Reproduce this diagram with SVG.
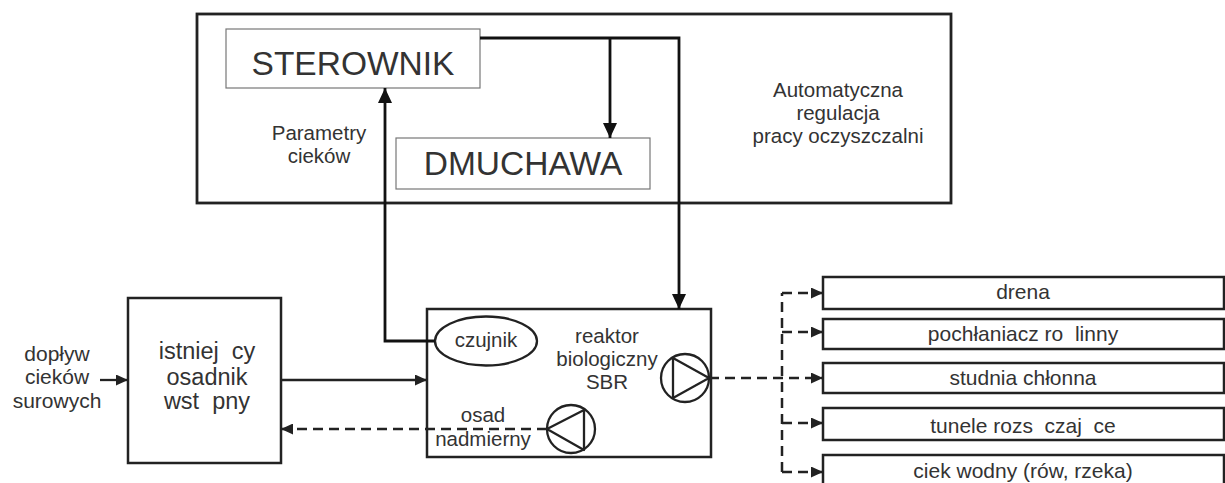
<svg xmlns="http://www.w3.org/2000/svg" width="1225" height="483" viewBox="0 0 1225 483">
<style>
text{font-family:"Liberation Sans",Arial,sans-serif;fill:#333;text-anchor:middle;white-space:pre}
.box{fill:#fff;stroke:#222;stroke-width:2.5}
.thin{fill:#fff;stroke:#777;stroke-width:1.2}
.ln{fill:none;stroke:#111;stroke-width:2.8}
.ln2{fill:none;stroke:#222;stroke-width:2.3}
.dash{fill:none;stroke:#222;stroke-width:2.5;stroke-dasharray:10,6}
.t20{font-size:20.5px}
.t21{font-size:21px}
.t23{font-size:23.5px}
.big{font-size:33.5px}
</style>
<defs>
<marker id="aL" markerUnits="userSpaceOnUse" markerWidth="16" markerHeight="14" refX="15" refY="7" orient="auto"><path d="M0,0 L15,7 L0,14 z" fill="#111"/></marker>
<marker id="aS" markerUnits="userSpaceOnUse" markerWidth="12" markerHeight="11" refX="12" refY="5.5" orient="auto"><path d="M0,0 L12,5.5 L0,11 z" fill="#222"/></marker>
</defs>
<g id="automatyka">
<rect x="197" y="14" width="754" height="189" fill="#fff" stroke="#222" stroke-width="2.8"/>
<text class="t20" x="838" y="97">Automatyczna</text>
<text class="t20" x="838" y="120">regulacja</text>
<text class="t20" x="838" y="143">pracy oczyszczalni</text>
<text class="t20" x="319" y="140">Parametry</text>
<text class="t20" x="319" y="163">cieków</text>
</g>
<g id="sterownik">
<rect class="thin" x="226" y="29" width="254" height="59"/>
<text class="big" x="353" y="75">STEROWNIK</text>
</g>
<g id="dmuchawa">
<rect class="thin" x="396" y="138" width="254" height="51"/>
<text class="big" x="523" y="175">DMUCHAWA</text>
</g>
<g id="osadnik">
<rect class="box" x="128" y="298" width="153" height="165"/>
<text class="t23" x="207" y="359" xml:space="preserve">istniej  cy</text>
<text class="t23" x="207" y="385">osadnik</text>
<text class="t23" x="207" y="409" xml:space="preserve">wst  pny</text>
</g>
<g id="doplyw">
<text class="t21" x="57" y="361">dopływ</text>
<text class="t21" x="57" y="384">cieków</text>
<text class="t21" x="57" y="408">surowych</text>
</g>
<g id="reaktor">
<rect class="box" x="427" y="309" width="284" height="148"/>
<text class="t20" x="607" y="343">reaktor</text>
<text class="t20" x="607" y="366">biologiczny</text>
<text class="t20" x="607" y="389">SBR</text>
<text class="t20" x="483" y="422">osad</text>
<text class="t20" x="483" y="446">nadmierny</text>
</g>
<g id="czujnik">
<ellipse cx="486" cy="341" rx="51" ry="24.5" fill="#fff" stroke="#222" stroke-width="2.3"/>
<text class="t20" x="486" y="347">czujnik</text>
</g>
<g id="pompa-odplyw">
<circle cx="685" cy="378" r="24" fill="#fff" stroke="#222" stroke-width="2.3"/>
<path d="M673,358 L673,398 L709,378 z" fill="none" stroke="#222" stroke-width="2.3" stroke-linejoin="round"/>
</g>
<g id="pompa-osad">
<circle cx="571" cy="429" r="24" fill="#fff" stroke="#222" stroke-width="2.3"/>
<path d="M584,410 L584,450 L547,429 z" fill="none" stroke="#222" stroke-width="2.3" stroke-linejoin="round"/>
</g>
<g id="odbiorniki">
<rect class="box" x="823" y="277" width="401" height="32"/>
<text class="t21" x="1023" y="299">drena</text>
<rect class="box" x="823" y="319" width="401" height="30"/>
<text class="t21" x="1023" y="341" xml:space="preserve">pochłaniacz ro  linny</text>
<rect class="box" x="823" y="363" width="401" height="30"/>
<text class="t21" x="1023" y="385">studnia chłonna</text>
<rect class="box" x="823" y="408" width="401" height="32"/>
<text class="t21" x="1023" y="433" xml:space="preserve">tunele rozs  czaj  ce</text>
<rect class="box" x="823" y="455" width="401" height="40"/>
<text class="t21" x="1023" y="478">ciek wodny (rów, rzeka)</text>
</g>
<g id="connectors">
<path class="ln" d="M480,38 L679,38 L679,309" marker-end="url(#aL)"/>
<path class="ln" d="M610,38 L610,138" marker-end="url(#aL)"/>
<path class="ln" d="M435,341 L385,341 L385,88" marker-end="url(#aL)"/>
<path class="ln2" d="M100,380 L128,380" marker-end="url(#aS)"/>
<path class="ln2" d="M281,380 L427,380" marker-end="url(#aS)"/>
<path class="dash" d="M547,429 L281,429" marker-end="url(#aS)"/>
<path class="dash" d="M709,378 L823,378" marker-end="url(#aS)"/>
<path class="dash" d="M782,472 L782,293"/>
<path class="dash" d="M782,293 L823,293" marker-end="url(#aS)"/>
<path class="dash" d="M782,332 L823,332" marker-end="url(#aS)"/>
<path class="dash" d="M782,423 L823,423" marker-end="url(#aS)"/>
<path class="dash" d="M782,472 L823,472" marker-end="url(#aS)"/>
</g>
</svg>
